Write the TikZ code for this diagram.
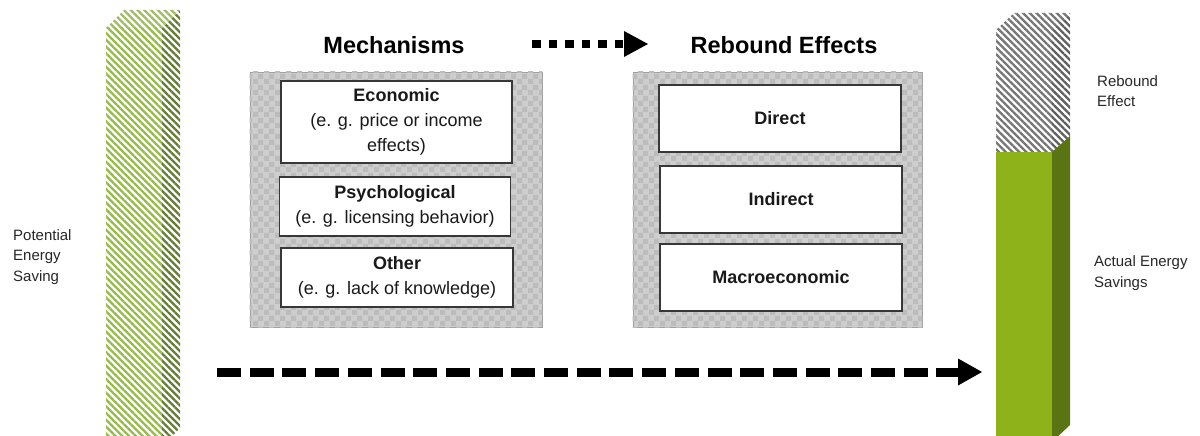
\documentclass[tikz,border=0pt]{standalone}
\usepackage{fontspec}
\setmainfont{Liberation Sans}
\usetikzlibrary{patterns,patterns.meta,arrows.meta}

% small grey checker used for the two group panels
\pgfdeclarepatternformonly{panelchecker}{\pgfqpoint{0pt}{0pt}}{\pgfqpoint{11pt}{11pt}}{\pgfqpoint{11pt}{11pt}}{%
  \pgfpathrectangle{\pgfqpoint{0pt}{0pt}}{\pgfqpoint{5.5pt}{5.5pt}}%
  \pgfpathrectangle{\pgfqpoint{5.5pt}{5.5pt}}{\pgfqpoint{5.5pt}{5.5pt}}%
  \pgfusepath{fill}}

\definecolor{hatchgreen}{RGB}{150,186,76}
\definecolor{sidegreenbg}{RGB}{168,184,132}
\definecolor{sidegreen}{RGB}{100,124,54}
\definecolor{topgreen}{RGB}{160,188,104}
\definecolor{hatchgrey}{RGB}{118,118,118}
\definecolor{sidegreybg}{RGB}{195,195,195}
\definecolor{sidegrey}{RGB}{96,96,96}
\definecolor{savegreen}{RGB}{141,178,26}
\definecolor{savegreenside}{RGB}{90,116,20}
\definecolor{panelbg}{RGB}{206,206,206}
\definecolor{paneldot}{RGB}{188,188,188}
\definecolor{panelline}{RGB}{160,160,160}
\definecolor{boxline}{RGB}{55,55,55}
\definecolor{labeltext}{RGB}{38,38,38}

\tikzset{
  stripes/.style 2 args={fill=#1, pattern={Lines[angle=-45,distance=4.8pt,line width=2.3pt]}, pattern color=#2},
  panel/.style={draw=panelline, line width=0.8pt, fill=panelbg, minimum width=#1, minimum height=255pt, inner sep=0pt},
  panelpat/.style={pattern=panelchecker, pattern color=paneldot},
  itembox/.style 2 args={draw=boxline, line width=1.3pt, fill=white, minimum width=#1, minimum height=#2,
    inner sep=0pt, align=center, text=black!90, font=\fontsize{18}{25}\selectfont},
  grouptitle/.style={font=\fontsize{23.5}{28}\selectfont\bfseries, inner sep=0pt},
  sidelabel/.style={font=\fontsize{15}{20.5}\selectfont, text=labeltext, align=left, inner sep=0pt, anchor=west},
  bigarrow/.style={line width=9pt, -{Triangle[length=24pt,width=27pt,line width=0pt]}},
}

\begin{document}
\begin{tikzpicture}[x=1pt,y=-1pt]
\useasboundingbox (0,0) rectangle (1200,436);
\clip (0,0) rectangle (1200,436);

% potential saving column (left)
\path[stripes={white}{hatchgreen}] (106,28) -- (162,28) -- (162,446) -- (106,446) -- cycle;
\path[stripes={sidegreenbg}{sidegreen}] (162,28) -- (180,10) -- (180,428) -- (162,446) -- cycle;
\path[stripes={white}{topgreen}] (106,28) -- (124,10) -- (180,10) -- (162,28) -- cycle;

% actual saving column (right): rebound part on top, savings below
\path[stripes={white}{hatchgrey}] (996,30) -- (1052,30) -- (1052,152) -- (996,152) -- cycle;
\path[stripes={sidegreybg}{sidegrey}] (1052,30) -- (1070,13) -- (1070,136) -- (1052,152) -- cycle;
\path[stripes={white}{hatchgrey}] (996,30) -- (1014,13) -- (1070,13) -- (1052,30) -- cycle;
\fill[savegreen] (996,152) rectangle (1052,446);
\fill[savegreenside] (1052,152) -- (1070,136) -- (1070,425) -- (1052,442) -- cycle;

% side labels
\node[sidelabel] (potlabel) at (13,257) {Potential\\Energy\\Saving};
\node[sidelabel] (reblabel) at (1097,91) {Rebound\\Effect};
\node[sidelabel] (actlabel) at (1094,273) {Actual Energy\\Savings};

% group titles
\node[grouptitle] (mechtitle) at (394,45) {Mechanisms};
\node[grouptitle] (rebtitle) at (784,45) {Rebound Effects};

% group panels
\node[panel=292pt] (mechpanel) at (396,199.5) {};
\path[panelpat] (mechpanel.north west) rectangle (mechpanel.south east);
\node[panel=289pt] (rebpanel) at (777.5,199.5) {};
\path[panelpat] (rebpanel.north west) rectangle (rebpanel.south east);

% mechanisms
\node[itembox={231pt}{82pt}] (econ) at (396.5,122) {\textbf{Economic}\\(e. g. price or income\\effects)};
\node[itembox={231pt}{59pt}] (psych) at (395,206.5) {\textbf{Psychological}\\(e. g. licensing behavior)};
\node[itembox={232pt}{59pt}] (other) at (397,277.5) {\textbf{Other}\\(e. g. lack of knowledge)};

% rebound effects
\node[itembox={242pt}{67pt}] (direct) at (780,118.5) {\textbf{Direct}};
\node[itembox={242pt}{67pt}] (indirect) at (781,199.5) {\textbf{Indirect}};
\node[itembox={242pt}{67pt}] (macro) at (781,277.5) {\textbf{Macroeconomic}};

% arrows
\coordinate (dotstart) at (532,44);
\coordinate (dotend) at (648,44);
\draw[bigarrow, line width=8.5pt, dash pattern=on 8.5pt off 8pt,
  -{Triangle[length=24pt,width=26pt,line width=0pt]}] (dotstart) -- (dotend);

\coordinate (dashstart) at (217,372);
\coordinate (dashend) at (982,372);
\draw[bigarrow, dash pattern=on 24pt off 8.7pt] (dashstart) -- (dashend);
\end{tikzpicture}
\end{document}
